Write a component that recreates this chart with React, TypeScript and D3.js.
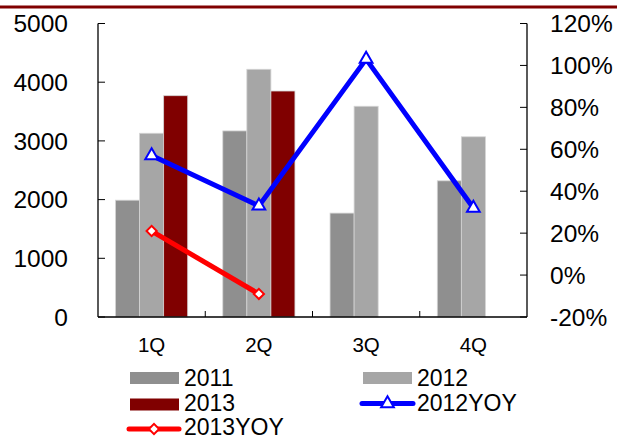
import React from 'react';
import * as d3 from 'd3';

const quarters = ['1Q', '2Q', '3Q', '4Q'];
const seriesNames = ['2011', '2012', '2013'];
const sales2011 = [1990, 3170, 1770, 2320];
const sales2012 = [3130, 4220, 3590, 3070];
const sales2013: (number | null)[] = [3770, 3850, null, null];
const yoy2012 = [57, 33, 103, 32];
const yoy2013: (number | null)[] = [21, -9, null, null];
const leftTicks = [0, 1000, 2000, 3000, 4000, 5000];
const rightTicks = [-20, 0, 20, 40, 60, 80, 100, 120];

const W = 617;
const H = 436;
const margin = { left: 98, right: 90, top: 23.5, bottom: 119 };
const FONT = "'Liberation Sans', Arial, sans-serif";

const barColors: Record<string, string> = { '2011': '#8f8f8f', '2012': '#a6a6a6', '2013': '#800000' };

export default function App() {
  const x = d3.scaleBand<string>().domain(quarters).range([margin.left, W - margin.right]).padding(0);
  const sub = d3.scaleBand<string>().domain(seriesNames).range([0, x.bandwidth()]).paddingInner(0).paddingOuter(0.73);
  const yL = d3.scaleLinear().domain([0, 5000]).range([H - margin.bottom, margin.top]);
  const yR = d3.scaleLinear().domain([-20, 120]).range([H - margin.bottom, margin.top]);

  const values: Record<string, (number | null)[]> = { '2011': sales2011, '2012': sales2012, '2013': sales2013 };
  const cx = (q: string) => (x(q) ?? 0) + x.bandwidth() / 2;

  const line = d3.line<[string, number | null]>()
    .defined(d => d[1] !== null)
    .x(d => cx(d[0]))
    .y(d => yR(d[1] as number));

  const tri = d3.symbol(d3.symbolTriangle, 70)()!;
  const sq = d3.symbol(d3.symbolSquare, 52)()!;

  const x0 = margin.left;
  const x1 = W - margin.right;
  const yb = H - margin.bottom;

  return (
    <div style={{ position: 'absolute', left: 0, top: 0 }}>
      <svg width={W} height={H} style={{ display: 'block', background: '#fff' }} fontFamily={FONT}>
        <line x1={0} x2={W} y1={7} y2={7} stroke="#800000" strokeWidth={3} />

        {/* bars */}
        {quarters.map((q, i) => (
          <g key={q} transform={`translate(${x(q)},0)`}>
            {seriesNames.map(s => {
              const v = values[s][i];
              if (v === null) return null;
              return (
                <rect key={s} x={sub(s)} y={yL(v)} width={sub.bandwidth()} height={yb - yL(v)}
                  fill={barColors[s]} stroke="#d4d4d4" strokeWidth={0.8} />
              );
            })}
          </g>
        ))}

        {/* axes */}
        <line x1={x0} x2={x0} y1={margin.top} y2={yb} stroke="#000" strokeWidth={1.3} />
        <line x1={x1} x2={x1} y1={margin.top} y2={yb} stroke="#000" strokeWidth={1.3} />
        <line x1={x0} x2={x1} y1={yb} y2={yb} stroke="#000" strokeWidth={1.3} />
        {leftTicks.map(t => (
          <g key={t}>
            <line x1={x0} x2={x0 + 7} y1={yL(t)} y2={yL(t)} stroke="#000" strokeWidth={1} />
            <text x={68} y={yL(t)} dy="0.36em" textAnchor="end" fontSize={24.5}>{t}</text>
          </g>
        ))}
        {rightTicks.map(t => (
          <g key={t}>
            <line x1={x1 - 7} x2={x1} y1={yR(t)} y2={yR(t)} stroke="#000" strokeWidth={1} />
            <text x={550} y={yR(t)} dy="0.36em" textAnchor="start" fontSize={24.5}>{t}%</text>
          </g>
        ))}
        {quarters.slice(1).map(q => (
          <line key={q} x1={x(q)} x2={x(q)} y1={yb} y2={yb - 6} stroke="#000" strokeWidth={1} />
        ))}
        {quarters.map(q => (
          <text key={q} x={cx(q)} y={352} textAnchor="middle" fontSize={20.5}>{q}</text>
        ))}

        {/* lines */}
        <path d={line(quarters.map((q, i) => [q, yoy2012[i]]))!} fill="none" stroke="#0000ff" strokeWidth={5} />
        <path d={line(quarters.map((q, i) => [q, yoy2013[i]]))!} fill="none" stroke="#ff0000" strokeWidth={5} />
        {quarters.map((q, i) => (
          <path key={q} d={tri} transform={`translate(${cx(q)},${yR(yoy2012[i])})`} fill="#fff" stroke="#0000ff" strokeWidth={2} />
        ))}
        {quarters.map((q, i) => {
          const v = yoy2013[i];
          if (v === null) return null;
          return <path key={q} d={sq} transform={`translate(${cx(q)},${yR(v)}) rotate(45)`} fill="#fff" stroke="#ff0000" strokeWidth={2} />;
        })}

        {/* legend */}
        <g fontSize={23}>
          <rect x={130} y={372} width={49} height={12} fill={barColors['2011']} />
          <text x={184} y={385.5}>2011</text>
          <rect x={363} y={372} width={49} height={12} fill={barColors['2012']} />
          <text x={417} y={385.5}>2012</text>
          <rect x={130} y={398.5} width={49} height={12} fill={barColors['2013']} />
          <text x={184} y={411}>2013</text>
          <line x1={362} x2={413} y1={403.5} y2={403.5} stroke="#0000ff" strokeWidth={5} strokeLinecap="round" />
          <path d={tri} transform="translate(387.5,403.5)" fill="#fff" stroke="#0000ff" strokeWidth={2} />
          <text x={417} y={411}>2012YOY</text>
          <line x1={129} x2={179} y1={429} y2={429} stroke="#ff0000" strokeWidth={5} strokeLinecap="round" />
          <path d={sq} transform="translate(154,429) rotate(45)" fill="#fff" stroke="#ff0000" strokeWidth={2} />
          <text x={184} y={435}>2013YOY</text>
        </g>
      </svg>
    </div>
  );
}
